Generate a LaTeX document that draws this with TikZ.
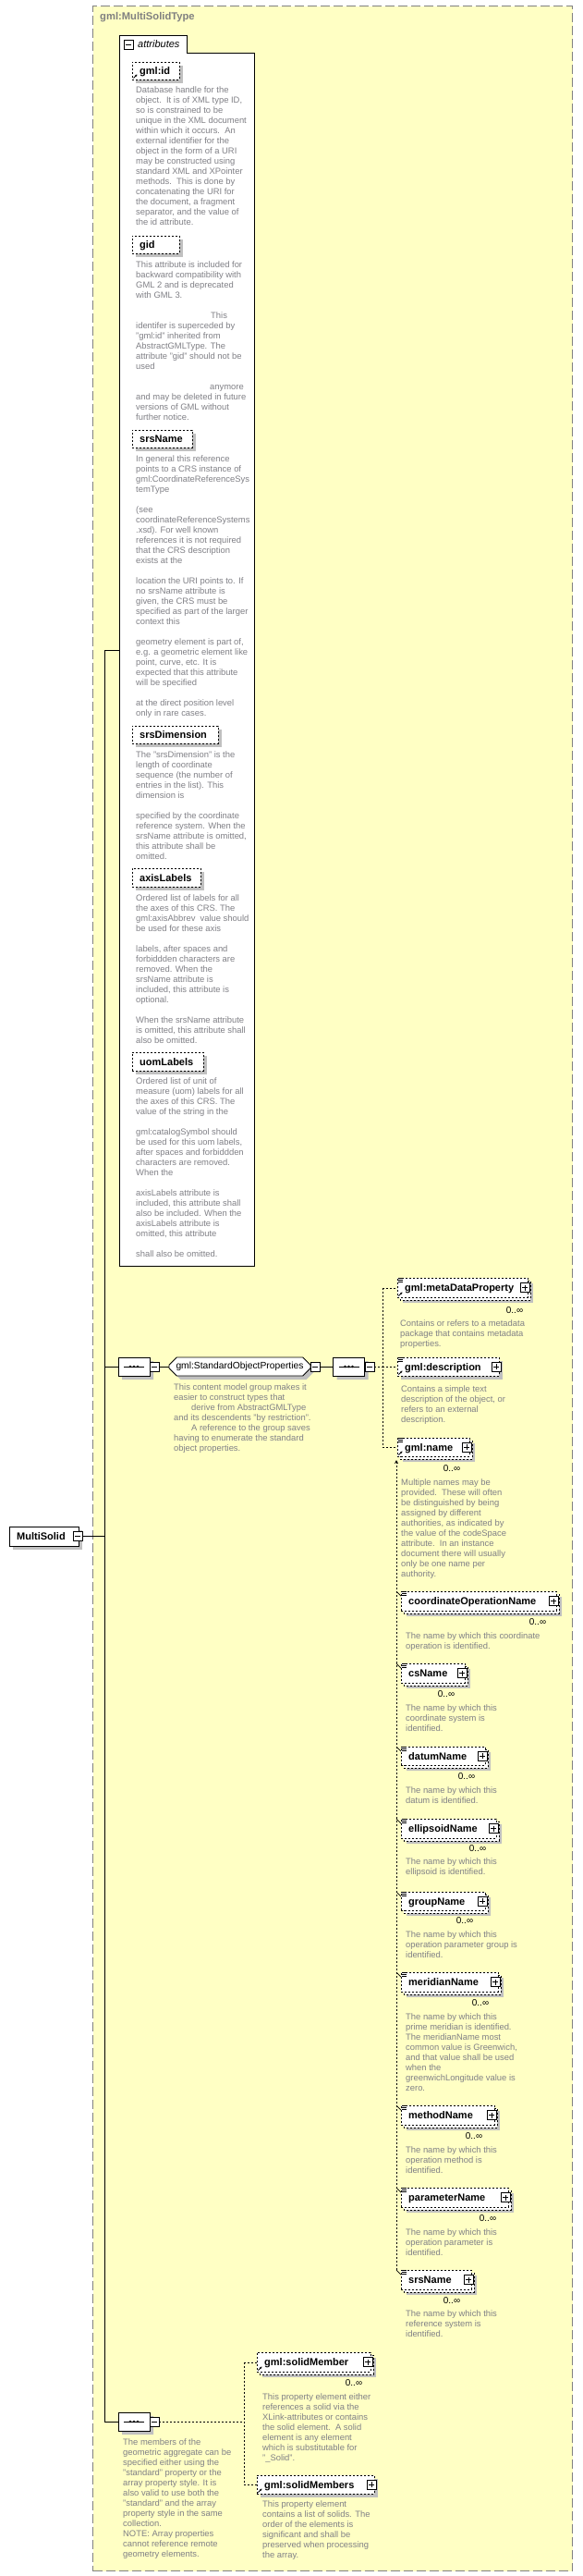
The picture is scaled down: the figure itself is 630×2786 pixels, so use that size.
\documentclass[tikz,border=0pt]{standalone}
\usepackage{fontspec}
\setmainfont{Liberation Sans}
\usetikzlibrary{shapes.misc,shadows,arrows.meta}
\definecolor{bgy}{RGB}{255,255,196}
\definecolor{shadowc}{RGB}{192,192,192}
\definecolor{descc}{RGB}{128,128,134}
\definecolor{framec}{RGB}{128,128,128}
\tikzset{
 desc/.style={anchor=north west, inner sep=0pt, align=left, text=descc, font=\fontsize{9.4}{11}\selectfont, execute at begin node=\strut},
 nm/.style={anchor=base west, inner sep=0pt, font=\fontsize{11}{13}\selectfont\bfseries},
 dbox/.style={draw=black, line width=0.9pt, dash pattern=on 2pt off 2pt},
 sbox/.style={draw=black, line width=0.9pt},
 conn/.style={draw=black, line width=0.9pt},
 dconn/.style={draw=black, line width=0.9pt, dash pattern=on 2pt off 2pt},
 mult/.style={inner sep=0pt, font=\fontsize{10}{12}\selectfont},
 compo/.style={chamfered rectangle, chamfered rectangle xsep=5pt, draw=black, fill=white, line width=0.9pt, minimum width=34pt, minimum height=20pt, inner sep=0pt, drop shadow={shadow xshift=4pt, shadow yshift=-4pt, fill=shadowc, opacity=1}},
 grp/.style={chamfered rectangle, chamfered rectangle xsep=5pt, draw=black, fill=white, line width=0.9pt, minimum width=153pt, minimum height=20pt, inner sep=0pt, font=\fontsize{10.3}{12}\selectfont, drop shadow={shadow xshift=4pt, shadow yshift=-4pt, fill=shadowc, opacity=1}},
}
\newcommand{\pmbox}[4]{%
  \node[draw=black,fill=white,line width=0.8pt,minimum size=10pt,inner sep=0pt] (#1) at (#2,#3) {};
  \draw[line width=0.8pt] ([xshift=-3pt]#1.center) -- ([xshift=3pt]#1.center);
  \if#4p\draw[line width=0.8pt] ([yshift=-3pt]#1.center) -- ([yshift=3pt]#1.center);\fi
}
\newcommand{\elbox}[8]{%
  \ifnum#7=1
    \fill[shadowc] ({#2+6},{#3+6}) rectangle ({#4+6},{#5+6});
    \draw[#8,fill=white] ({#2+3},{#3+3}) rectangle ({#4+3},{#5+3});
  \else
    \fill[shadowc] ({#2+4},{#3+4}) rectangle ({#4+4},{#5+4});
  \fi
  \node[#8,fill=white,anchor=north west,inner sep=0pt,minimum width={#4-#2},minimum height={#5-#3}] (#1) at (#2,#3) {};
  \node[nm] (#1-t) at ({#2+8},{(#3+#5)/2+4}) {#6};
}
\newcommand{\refarrow}[2]{\draw[line width=0.8pt,-{Stealth[length=2.5pt,width=2.5pt]}] ({#1+1.5},{#2-1.5}) -- ({#1+5.5},{#2-5.5});}
\newcommand{\cmlines}[2]{\foreach \k in {0,1.7,3.4} \draw[line width=0.6pt] ({#1+1},{#2+0.5+\k}) -- ({#1+6},{#2+0.5+\k});}
\newcommand{\seqdots}[1]{%
  \draw[line width=0.9pt] ([xshift=-11pt]#1.center) -- ([xshift=11pt]#1.center);
  \foreach \dx in {-4,0,4} \fill ([xshift=\dx pt]#1.center) circle[radius=1.3pt];
}
\begin{document}
\begin{tikzpicture}[x=1pt,y=-1pt]
\useasboundingbox (0,0) rectangle (630,2786);
\fill[white] (0,0) rectangle (630,2786);
% outer type frame
\node[draw=framec, dash pattern=on 10pt off 4pt, line width=1.2pt, fill=bgy, anchor=north west, minimum width=519pt, minimum height=2774pt, inner sep=0pt] (frame) at (100,6) {};
\node[anchor=base west, text=framec, font=\fontsize{11.2}{13}\selectfont\bfseries, inner sep=0pt] (title) at (108,22) {gml:MultiSolidType};

% attributes container
\draw[sbox,fill=white] (129,1369) -- (129,38) -- (202,38) -- (202,57) -- (275,57) -- (275,1369) -- cycle;
\node[anchor=north west, minimum width=146pt, minimum height=1331pt, inner sep=0pt] (attr) at (129,38) {};
\pmbox{attr-m}{139}{48}{m}
\node[anchor=base west, inner sep=0pt, font=\fontsize{11}{13}\selectfont\itshape] (attr-t) at (149,52) {attributes};

\elbox{aid}{143}{67}{194}{86}{gml:id}{0}{dbox}
\refarrow{143}{86}
\node[desc] (aid-d) at (147,93.5) {Database handle for the\\object.\ \ It is of XML type ID,\\so is constrained to be\\unique in the XML document\\within which it occurs.\ \ An\\external identifier for the\\object in the form of a URI\\may be constructed using\\standard XML and XPointer\\methods.\ \ This is done by\\concatenating the URI for\\the document, a fragment\\separator, and the value of\\the id attribute.};

\elbox{gid}{143}{255}{194}{274}{gid}{0}{dbox}
\node[desc] (gid-d) at (147,282.5) {This attribute is included for\\backward compatibility with\\GML 2 and is deprecated\\with GML 3.\\[11pt]\hspace*{81pt}This\\identifer is superceded by\\"gml:id" inherited from\\AbstractGMLType. The\\attribute "gid" should not be\\used\\[11pt]\hspace*{80pt}anymore\\and may be deleted in future\\versions of GML without\\further notice.};

\elbox{srs}{143}{465}{208}{484}{srsName}{0}{dbox}
\node[desc] (srs-d) at (147,492.5) {In general this reference\\points to a CRS instance of\\gml:CoordinateReferenceSys\\temType\\[11pt](see\\coordinateReferenceSystems\\.xsd). For well known\\references it is not required\\that the CRS description\\exists at the\\[11pt]location the URI points to. If\\no srsName attribute is\\given, the CRS must be\\specified as part of the larger\\context this\\[11pt]geometry element is part of,\\e.g. a geometric element like\\point, curve, etc. It is\\expected that this attribute\\will be specified\\[11pt]at the direct position level\\only in rare cases.};

\elbox{sdim}{143}{785}{236}{804}{srsDimension}{0}{dbox}
\node[desc] (sdim-d) at (147,812.5) {The "srsDimension" is the\\length of coordinate\\sequence (the number of\\entries in the list). This\\dimension is\\[11pt]specified by the coordinate\\reference system. When the\\srsName attribute is omitted,\\this attribute shall be\\omitted.};

\elbox{axl}{143}{939}{217}{959}{axisLabels}{0}{dbox}
\node[desc] (axl-d) at (147,967.5) {Ordered list of labels for all\\the axes of this CRS. The\\gml:axisAbbrev\ \ value should\\be used for these axis\\[11pt]labels, after spaces and\\forbiddden characters are\\removed. When the\\srsName attribute is\\included, this attribute is\\optional.\\[11pt]When the srsName attribute\\is omitted, this attribute shall\\also be omitted.};

\elbox{uom}{143}{1138}{220}{1158}{uomLabels}{0}{dbox}
\node[desc] (uom-d) at (147,1165.5) {Ordered list of unit of\\measure (uom) labels for all\\the axes of this CRS. The\\value of the string in the\\[11pt]gml:catalogSymbol should\\be used for this uom labels,\\after spaces and forbiddden\\characters are removed.\\When the\\[11pt]axisLabels attribute is\\included, this attribute shall\\also be included. When the\\axisLabels attribute is\\omitted, this attribute\\[11pt]shall also be omitted.};

% root element
\elbox{ms}{10}{1651}{85}{1672}{MultiSolid}{0}{sbox}
\pmbox{ms-m}{84}{1661.5}{m}

% main sequence line
\coordinate (vtop) at (113,703);
\coordinate (vbot) at (113,2619);
\draw[conn] (vtop) -- (vbot);
\draw[conn] (vtop) -- (vtop -| attr.west);
\draw[conn] (ms-m.east) -- (ms-m.east -| vtop);

% first sequence
\node[compo] (seq1) at (145,1478) {};
\seqdots{seq1}
\pmbox{seq1-m}{167}{1478}{m}
\draw[conn] (seq1.west -| vtop) -- (seq1.west);
\node[grp] (sop) at (259.5,1478) {gml:StandardObjectProperties};
\pmbox{sop-m}{341}{1478}{m}
\draw[conn] (seq1-m.east) -- (sop.west);
\node[desc] (sop-d) at (188,1496.5) {This content model group makes it\\easier to construct types that\\\hspace*{19pt}derive from AbstractGMLType\\and its descendents "by restriction".\\\hspace*{19pt}A reference to the group saves\\having to enumerate the standard\\object properties.};
\node[compo] (seq2) at (377.5,1478) {};
\seqdots{seq2}
\pmbox{seq2-m}{400}{1478}{m}
\draw[conn] (sop-m.east) -- (seq2.west);

% standard object properties
\elbox{mdp}{430}{1382}{571}{1403}{gml:metaDataProperty}{1}{dbox}
\pmbox{mdp-p}{568}{1392.5}{p}
\cmlines{430}{1382}\refarrow{430}{1403}
\node[mult] (mdp-c) at (557,1417) {0..∞};
\node[desc] (mdp-d) at (433,1427.5) {Contains or refers to a metadata\\package that contains metadata\\properties.};

\elbox{dsc}{430}{1468}{540}{1488}{gml:description}{0}{dbox}
\pmbox{dsc-p}{537}{1478}{p}
\cmlines{430}{1468}\refarrow{430}{1488}
\node[desc] (dsc-d) at (434,1498.5) {Contains a simple text\\description of the object, or\\refers to an external\\description.};

\elbox{gnm}{430}{1555}{508}{1575}{gml:name}{1}{dbox}
\pmbox{gnm-p}{505}{1565}{p}
\cmlines{430}{1555}\refarrow{430}{1575}
\node[mult] (gnm-c) at (489,1588) {0..∞};
\node[desc] (gnm-d) at (434,1599.5) {Multiple names may be\\provided.\ \ These will often\\be distinguished by being\\assigned by different\\authorities, as indicated by\\the value of the codeSpace\\attribute.\ \ In an instance\\document there will usually\\only be one name per\\authority.};

\coordinate (v2) at (414,1478);
\draw[dconn] (seq2-m.east) -- (v2);
\draw[dconn] (mdp.west -| v2) -- (gnm.west -| v2);
\draw[dconn] (mdp.west -| v2) -- (mdp.west);
\draw[dconn] (dsc.west -| v2) -- (dsc.west);
\draw[dconn] (gnm.west -| v2) -- (gnm.west);

% substitution group of gml:name
\elbox{con}{434}{1721}{602}{1742}{coordinateOperationName}{1}{dbox}
\pmbox{con-p}{599}{1731.5}{p}\cmlines{434}{1721}
\node[mult] (con-c) at (582,1754) {0..∞};
\node[desc] (con-d) at (439,1765.5) {The name by which this coordinate\\operation is identified.};

\elbox{csn}{434}{1799}{503}{1820}{csName}{1}{dbox}
\pmbox{csn-p}{500}{1809.5}{p}\cmlines{434}{1799}
\node[mult] (csn-c) at (483,1832) {0..∞};
\node[desc] (csn-d) at (439,1843.5) {The name by which this\\coordinate system is\\identified.};

\elbox{dtn}{434}{1889}{525}{1909}{datumName}{1}{dbox}
\pmbox{dtn-p}{522}{1899}{p}\cmlines{434}{1889}
\node[mult] (dtn-c) at (505,1921) {0..∞};
\node[desc] (dtn-d) at (439,1932.5) {The name by which this\\datum is identified.};

\elbox{eln}{434}{1967}{537}{1988}{ellipsoidName}{1}{dbox}
\pmbox{eln-p}{534}{1977.5}{p}\cmlines{434}{1967}
\node[mult] (eln-c) at (517,1999) {0..∞};
\node[desc] (eln-d) at (439,2009.5) {The name by which this\\ellipsoid is identified.};

\elbox{grn}{434}{2046}{525}{2066}{groupName}{1}{dbox}
\pmbox{grn-p}{522}{2056}{p}\cmlines{434}{2046}
\node[mult] (grn-c) at (503,2077) {0..∞};
\node[desc] (grn-d) at (439,2088.5) {The name by which this\\operation parameter group is\\identified.};

\elbox{mrn}{434}{2133}{539}{2154}{meridianName}{1}{dbox}
\pmbox{mrn-p}{536}{2143.5}{p}\cmlines{434}{2133}
\node[mult] (mrn-c) at (520,2166) {0..∞};
\node[desc] (mrn-d) at (439,2177.5) {The name by which this\\prime meridian is identified.\\The meridianName most\\common value is Greenwich,\\and that value shall be used\\when the\\greenwichLongitude value is\\zero.};

\elbox{mtn}{434}{2277}{535}{2298}{methodName}{1}{dbox}
\pmbox{mtn-p}{532}{2287.5}{p}\cmlines{434}{2277}
\node[mult] (mtn-c) at (513,2310) {0..∞};
\node[desc] (mtn-d) at (439,2321.5) {The name by which this\\operation method is\\identified.};

\elbox{prn}{434}{2366}{550}{2387}{parameterName}{1}{dbox}
\pmbox{prn-p}{547}{2376.5}{p}\cmlines{434}{2366}
\node[mult] (prn-c) at (528,2399) {0..∞};
\node[desc] (prn-d) at (439,2410.5) {The name by which this\\operation parameter is\\identified.};

\elbox{srn}{434}{2455}{510}{2476}{srsName}{1}{dbox}
\pmbox{srn-p}{507}{2465.5}{p}\cmlines{434}{2455}
\node[mult] (srn-c) at (489,2488) {0..∞};
\node[desc] (srn-d) at (439,2498.5) {The name by which this\\reference system is\\identified.};

\coordinate (v3top) at (429,1579);
\draw[dconn,{Stealth[length=4pt,width=4pt]}-] (v3top) -- (v3top |- srn.north west);
\foreach \m in {con,csn,dtn,eln,grn,mrn,mtn,prn,srn}
  \draw[line width=0.7pt] (v3top |- \m.north west) -- ([shift={(0,5)}]\m.north west);

% second sequence (members)
\node[compo] (seq3) at (145,2619) {};
\seqdots{seq3}
\pmbox{seq3-m}{167}{2619}{m}
\draw[conn] (vbot) -- (seq3.west);
\node[desc] (seq3-d) at (133,2637.5) {The members of the\\geometric aggregate can be\\specified either using the\\"standard" property or the\\array property style. It is\\also valid to use both the\\"standard" and the array\\property style in the same\\collection.\\NOTE: Array properties\\cannot reference remote\\geometry elements.};

\elbox{sm}{278}{2544}{401}{2565}{gml:solidMember}{1}{dbox}
\pmbox{sm-p}{398}{2554.5}{p}\refarrow{278}{2565}
\node[mult] (sm-c) at (383,2577) {0..∞};
\node[desc] (sm-d) at (284,2588.5) {This property element either\\references a solid via the\\XLink-attributes or contains\\the solid element.\ \ A solid\\element is any element\\which is substitutable for\\"\_Solid".};

\elbox{sms}{278}{2677}{405}{2697}{gml:solidMembers}{0}{dbox}
\pmbox{sms-p}{402}{2687}{p}\refarrow{278}{2697}
\node[desc] (sms-d) at (284,2704.5) {This property element\\contains a list of solids. The\\order of the elements is\\significant and shall be\\preserved when processing\\the array.};

\coordinate (v4) at (264,2619);
\draw[dconn] (seq3-m.east) -- (v4);
\draw[dconn] (sm.west -| v4) -- (sms.west -| v4);
\draw[dconn] (sm.west -| v4) -- (sm.west);
\draw[dconn] (sms.west -| v4) -- (sms.west);
\end{tikzpicture}
\end{document}
